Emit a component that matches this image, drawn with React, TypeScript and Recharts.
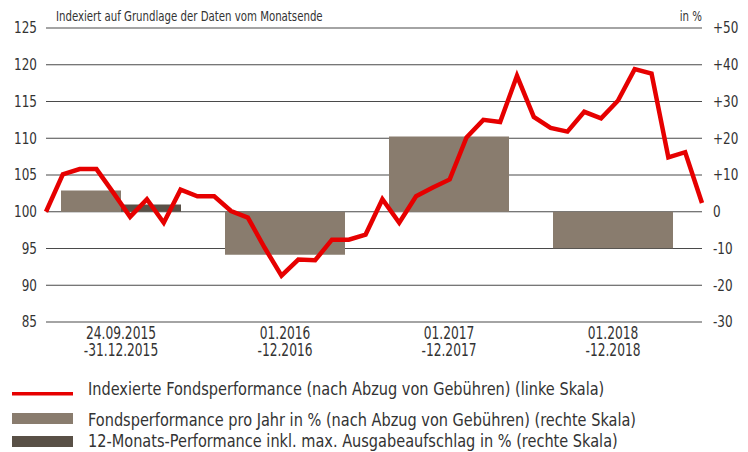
import {
  Bar,
  BarChart,
  CartesianGrid,
  Line,
  LineChart,
  XAxis,
  YAxis,
} from 'recharts'

/** Index level at month end, fund start 24.09.2015 = 100 (left scale) */
const INDEX_VALUES = [
  100.0, 105.1, 105.8, 105.8, 102.6, 99.3, 101.7, 98.5, 103.0, 102.1,
  102.1, 100.1, 99.2, 95.1, 91.3, 93.5, 93.4, 96.2, 96.2, 96.9,
  101.7, 98.5, 102.1, 103.3, 104.4, 110.1, 112.5, 112.2, 118.5, 112.9,
  111.4, 110.9, 113.6, 112.7, 115.1, 119.4, 118.8, 107.4, 108.1, 101.2,
]

/** Calendar periods for the yearly bars (right scale, %) */
const PERIODS = [
  ['24.09.2015', '-31.12.2015'],
  ['01.2016', '-12.2016'],
  ['01.2017', '-12.2017'],
  ['01.2018', '-12.2018'],
]
const YEAR_PERF = [5.8, -11.7, 20.5, -9.9]
const PERF_12M_LOAD = [2.0, null, null, null]

const LEFT_TICKS = [85, 90, 95, 100, 105, 110, 115, 120, 125]
const RIGHT_TICKS = [-30, -20, -10, 0, 10, 20, 30, 40, 50]

const LEGEND_ITEMS = [
  { label: 'Indexierte Fondsperformance (nach Abzug von Gebühren) (linke Skala)', kind: 'line', color: '#e60000' },
  { label: 'Fondsperformance pro Jahr in % (nach Abzug von Gebühren) (rechte Skala)', kind: 'box', color: '#897c6e' },
  { label: '12-Monats-Performance inkl. max. Ausgabeaufschlag in % (rechte Skala)', kind: 'box', color: '#595046' },
]

const FONT = "'DejaVu Sans Condensed', 'DejaVu Sans', sans-serif"
const TEXT = '#333333'
const W = 748
const H = 370
const PLOT_TOP = 28
const PLOT_BOTTOM = 48

const lineData = INDEX_VALUES.map((v, i) => ({ i, v }))

// the first (short) period shows two bars side by side, the others one wide bar
const barData = PERIODS.map((p, i) => ({
  period: p.join('\n'),
  single: PERF_12M_LOAD[i] == null ? YEAR_PERF[i] : null,
  paired: PERF_12M_LOAD[i] != null ? YEAR_PERF[i] : null,
  load: PERF_12M_LOAD[i],
}))

// the original uses a condensed face, so squeeze DejaVu a little around its anchor
const Squeezed = ({ x, y, sx, size, anchor = 'start', dy, children }: any) => (
  <text
    x={x}
    y={y}
    dy={dy}
    fontSize={size}
    fill={TEXT}
    fontFamily={FONT}
    textAnchor={anchor}
    transform={`translate(${x} 0) scale(${sx} 1) translate(${-x} 0)`}
  >
    {children}
  </text>
)

const PeriodTick = (props: any) => {
  const { x, y, payload } = props
  const [a, b] = String(payload.value).split('\n')
  return (
    <g>
      <Squeezed x={x} y={y + 17.3} sx={0.8} size={17} anchor="middle">{a}</Squeezed>
      <Squeezed x={x} y={y + 33.7} sx={0.8} size={17} anchor="middle">{b}</Squeezed>
    </g>
  )
}

const LeftTick = (props: any) => (
  <Squeezed x={props.x} y={props.y} dy="0.36em" sx={0.89} size={15} anchor="end">
    {props.payload.value}
  </Squeezed>
)

const RightTick = (props: any) => {
  const v = props.payload.value
  return (
    <Squeezed x={props.x} y={props.y} dy="0.36em" sx={0.89} size={15} anchor="start">
      {v > 0 ? `+${v}` : `${v}`}
    </Squeezed>
  )
}

const layer: React.CSSProperties = { position: 'absolute', left: 0, top: 0 }

const App = () => {
  return (
    <div style={{ position: 'absolute', left: 0, top: 0, width: W, height: 452, background: '#fff', fontFamily: FONT }}>
      {/* grid and both value axes */}
      <div style={layer}>
        <LineChart width={W} height={H} data={lineData} margin={{ top: PLOT_TOP, right: 0, bottom: PLOT_BOTTOM, left: 0 }}>
          <CartesianGrid yAxisId="idx" vertical={false} stroke="#4a4a4a" strokeWidth={1.2} />
          <XAxis dataKey="i" type="number" domain={[0, 39]} hide />
          <YAxis
            yAxisId="idx"
            domain={[85, 125]}
            ticks={LEFT_TICKS}
            allowDataOverflow
            width={46}
            axisLine={false}
            tickLine={false}
            tickSize={0}
            tickMargin={9}
            tick={<LeftTick />}
          />
          <YAxis
            yAxisId="pct"
            orientation="right"
            domain={[-30, 50]}
            ticks={RIGHT_TICKS}
            allowDataOverflow
            width={46}
            axisLine={false}
            tickLine={false}
            tickSize={0}
            tickMargin={11}
            tick={<RightTick />}
          />
        </LineChart>
      </div>

      {/* yearly performance bars */}
      <div style={layer}>
        <BarChart
          width={W}
          height={H}
          data={barData}
          barCategoryGap={22}
          barGap={0}
          margin={{ top: PLOT_TOP, right: 53, bottom: PLOT_BOTTOM - 40, left: 39 }}
        >
          <XAxis
            xAxisId="single"
            dataKey="period"
            height={40}
            axisLine={false}
            tickLine={false}
            tickSize={0}
            tickMargin={0}
            interval={0}
            tick={<PeriodTick />}
          />
          <XAxis xAxisId="paired" dataKey="period" height={0} hide />
          <YAxis yAxisId="pct" domain={[-30, 50]} allowDataOverflow hide />
          <Bar xAxisId="single" yAxisId="pct" dataKey="single" fill="#897c6e" isAnimationActive={false} />
          <Bar xAxisId="paired" yAxisId="pct" dataKey="paired" fill="#897c6e" isAnimationActive={false} />
          <Bar xAxisId="paired" yAxisId="pct" dataKey="load" fill="#595046" isAnimationActive={false} />
        </BarChart>
      </div>

      {/* indexed fund performance line */}
      <div style={layer}>
        <LineChart width={W} height={H} data={lineData} margin={{ top: PLOT_TOP, right: 46, bottom: PLOT_BOTTOM, left: 46 }}>
          <XAxis dataKey="i" type="number" domain={[0, 39]} hide />
          <YAxis domain={[85, 125]} allowDataOverflow hide />
          <Line
            type="linear"
            dataKey="v"
            stroke="#e60000"
            strokeWidth={4.5}
            dot={false}
            activeDot={false}
            isAnimationActive={false}
          />
        </LineChart>
      </div>

      {/* header and legend */}
      <svg width={W} height={452} style={{ ...layer, pointerEvents: 'none' }}>
        <Squeezed x={56} y={21} sx={0.81} size={14}>
          Indexiert auf Grundlage der Daten vom Monatsende
        </Squeezed>
        <Squeezed x={702} y={21} sx={0.81} size={14} anchor="end">
          in %
        </Squeezed>
        {LEGEND_ITEMS.map((it, k) => {
          const base = [395, 426, 447][k]
          return (
            <g key={it.label}>
              {it.kind === 'line' ? (
                <rect x={12} y={392} width={61} height={3.5} fill={it.color} />
              ) : (
                <rect x={12} y={k === 1 ? 413 : 436} width={61} height={11} fill={it.color} />
              )}
              <Squeezed x={88} y={base} sx={0.95} size={17}>
                {it.label}
              </Squeezed>
            </g>
          )
        })}
      </svg>
    </div>
  )
}

export default App
